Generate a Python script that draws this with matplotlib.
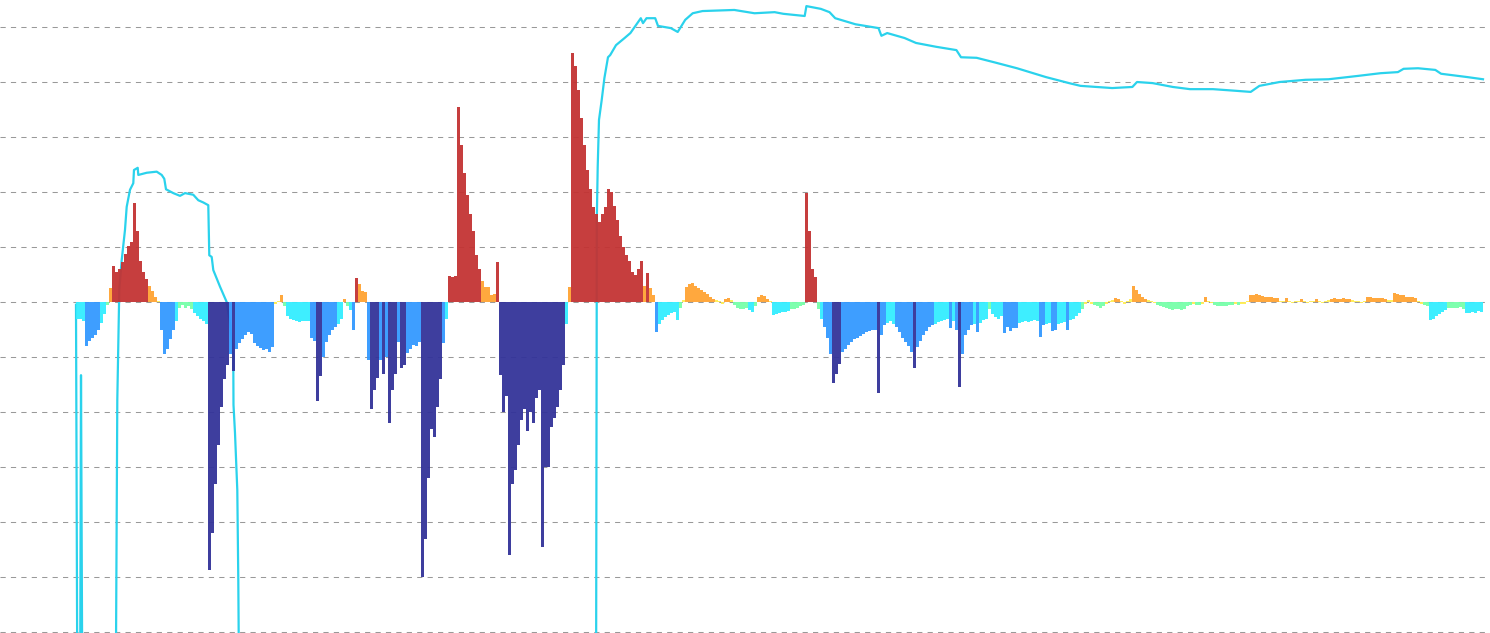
import numpy as np
import matplotlib
matplotlib.use('Agg')
import matplotlib.pyplot as plt

# Bar values (one per time step), in gridline units
bar_values = [
    -0.30, -0.30, -0.35, -0.80, -0.70, -0.65, -0.60, -0.50, -0.38, -0.22,
    -0.05, 0.25, 0.65, 0.55, 0.60, 0.72, 0.88, 1.02, 1.10, 1.80,
    1.30, 0.75, 0.55, 0.42, 0.30, 0.20, 0.10, 0.02, -0.50, -0.95,
    -0.85, -0.68, -0.50, -0.35, -0.10, -0.05, -0.10, -0.08, -0.12, -0.20,
    -0.25, -0.30, -0.35, -0.40, -4.87, -4.20, -3.30, -2.60, -1.90, -1.40,
    -1.15, -0.95, -1.25, -0.85, -0.75, -0.68, -0.60, -0.55, -0.58, -0.75,
    -0.80, -0.83, -0.88, -0.85, -0.90, -0.82, -0.03, 0.02, 0.12, -0.08,
    -0.25, -0.30, -0.32, -0.35, -0.36, -0.35, -0.35, -0.34, -0.65, -0.70,
    -1.80, -1.35, -1.00, -0.72, -0.60, -0.50, -0.45, -0.40, -0.30, 0.06,
    -0.08, -0.15, -0.50, 0.44, 0.33, 0.20, 0.18, -1.05, -1.95, -1.60,
    -1.38, -1.05, -1.30, -1.00, -2.20, -1.60, -1.30, -0.72, -1.20, -1.15,
    -0.92, -0.85, -0.78, -0.80, -0.72, -5.00, -4.30, -3.20, -2.30, -2.45,
    -1.90, -1.40, -0.75, -0.30, 0.48, 0.45, 0.47, 3.55, 2.85, 2.35,
    1.95, 1.60, 1.30, 0.85, 0.60, 0.38, 0.27, 0.27, 0.12, 0.15,
    0.72, -1.33, -2.00, -1.70, -4.60, -3.30, -3.05, -2.60, -2.15, -1.95,
    -2.35, -2.00, -2.20, -1.75, -1.60, -4.45, -3.00, -3.00, -2.27, -2.10,
    -1.90, -1.60, -1.15, -0.40, 0.27, 4.53, 4.30, 3.85, 3.35, 2.85,
    2.40, 2.05, 1.72, 1.60, 1.45, 1.60, 1.72, 2.05, 2.00, 1.75,
    1.50, 1.20, 1.00, 0.85, 0.75, 0.55, 0.50, 0.60, 0.75, 0.30,
    0.52, 0.25, 0.12, -0.55, -0.40, -0.33, -0.27, -0.23, -0.20, -0.18,
    -0.32, -0.10, 0.04, 0.27, 0.33, 0.34, 0.30, 0.25, 0.22, 0.18,
    0.14, 0.10, 0.06, 0.03, 0.02, -0.03, 0.06, 0.07, 0.03, -0.05,
    -0.10, -0.12, -0.13, -0.10, -0.15, -0.18, -0.08, 0.10, 0.13, 0.11,
    0.06, 0.02, -0.24, -0.22, -0.20, -0.18, -0.19, -0.16, -0.13, -0.12,
    -0.10, -0.08, -0.06, 1.98, 1.30, 0.60, 0.45, -0.12, -0.30, -0.45,
    -0.66, -0.95, -1.47, -1.30, -1.12, -0.90, -0.85, -0.78, -0.72, -0.68,
    -0.65, -0.62, -0.58, -0.55, -0.52, -0.50, -0.50, -1.65, -0.60, -0.42,
    -0.38, -0.35, -0.40, -0.45, -0.55, -0.65, -0.72, -0.80, -0.90, -1.20,
    -0.82, -0.70, -0.60, -0.52, -0.45, -0.42, -0.40, -0.37, -0.35, -0.33,
    -0.30, -0.48, -0.35, -0.50, -1.55, -0.95, -0.60, -0.50, -0.42, -0.40,
    -0.55, -0.38, -0.33, -0.30, -0.12, -0.22, -0.28, -0.30, -0.25, -0.57,
    -0.45, -0.52, -0.48, -0.47, -0.38, -0.37, -0.35, -0.36, -0.34, -0.33,
    -0.35, -0.63, -0.42, -0.40, -0.38, -0.52, -0.50, -0.40, -0.38, -0.36,
    -0.50, -0.33, -0.30, -0.25, -0.20, -0.12, -0.04, 0.03, -0.03, -0.05,
    -0.08, -0.10, -0.07, -0.03, 0.02, 0.04, 0.07, 0.06, 0.02, -0.03,
    0.02, 0.05, 0.29, 0.22, 0.15, 0.10, 0.06, 0.03, 0.02, -0.02,
    -0.06, -0.07, -0.09, -0.10, -0.13, -0.14, -0.13, -0.12, -0.14, -0.13,
    -0.08, -0.05, -0.04, -0.05, -0.06, -0.04, 0.09, 0.02, -0.02, -0.06,
    -0.08, -0.07, -0.08, -0.07, -0.06, -0.05, -0.04, -0.05, -0.04, -0.03,
    0.02, 0.12, 0.13, 0.14, 0.12, 0.11, 0.10, 0.10, 0.09, 0.08,
    0.08, 0.02, 0.01, 0.07, 0.02, -0.01, 0.01, 0.02, 0.06, 0.02,
    -0.01, 0.01, 0.02, 0.06, 0.02, -0.01, 0.01, 0.03, 0.06, 0.07,
    0.06, 0.06, 0.07, 0.06, 0.06, 0.04, 0.02, 0.01, -0.01, 0.02,
    0.09, 0.09, 0.08, 0.08, 0.08, 0.07, 0.06, 0.04, 0.03, 0.16,
    0.15, 0.13, 0.12, 0.10, 0.09, 0.09, 0.08, 0.02, -0.04, -0.06,
    -0.08, -0.33, -0.30, -0.26, -0.22, -0.18, -0.15, -0.10, -0.10, -0.11,
    -0.10, -0.09, -0.12, -0.20, -0.20, -0.18, -0.20, -0.17, -0.18,
]

# Cumulative line: vertices (position on the bar axis, value)
line_pos = [
    -0.5, 0.0, 0.83, 1.17, 1.67, 12.67, 13.27, 13.93, 14.73, 15.83,
    16.4, 17.5, 18.6, 18.83, 20.07, 20.27, 23.07, 26.4, 28.07, 28.93,
    29.5, 31.93, 34.17, 35.83, 38.6, 40.27, 41.93, 43.6, 43.93, 44.73,
    45.27, 47.5, 49.73, 50.83, 51.93, 52.0, 52.5, 53.27, 53.6, 54.0,
    172.83, 173.07, 173.1, 173.4, 173.83, 174.73, 175.63, 176.83, 177.57, 179.5,
    182.37, 184.3, 186.23, 187.77, 188.5, 189.67, 192.57, 193.5, 197.77, 200.07,
    202.57, 205.07, 208.33, 218.93, 225.67, 232.37, 235.27, 242.4, 242.97, 247.77,
    250.67, 252.57, 259.3, 267.0, 267.97, 269.9, 275.67, 279.5, 286.23, 292.97,
    294.5, 299.7, 305.47, 313.17, 322.77, 330.5, 334.33, 344.9, 351.63, 353.17,
    358.37, 365.1, 370.83, 378.5, 386.17, 391.07, 393.97, 400.7, 409.33, 417.03,
    426.67, 434.33, 440.13, 442.03, 446.83, 452.6, 454.53, 463.2, 468.5,
]
line_values = [
    -0.05, -8.0, -8.0, -1.33, -8.0, -8.0, -1.78, 0.22, 0.76, 1.31,
    1.73, 2.04, 2.16, 2.40, 2.44, 2.31, 2.35, 2.37, 2.31, 2.24,
    2.05, 1.98, 1.93, 1.98, 1.95, 1.85, 1.81, 1.76, 0.85, 0.82,
    0.58, 0.28, 0.00, -0.38, -1.00, -1.87, -2.38, -3.42, -5.05, -8.0,
    -8.0, -0.02, 1.49, 2.45, 3.31, 3.67, 4.07, 4.45, 4.49, 4.67,
    4.80, 4.89, 5.04, 5.16, 5.07, 5.16, 5.16, 5.02, 4.98, 4.91,
    5.13, 5.25, 5.29, 5.31, 5.25, 5.27, 5.24, 5.20, 5.38, 5.33,
    5.27, 5.16, 5.05, 4.98, 4.84, 4.89, 4.80, 4.71, 4.64, 4.58,
    4.45, 4.44, 4.36, 4.25, 4.09, 3.98, 3.93, 3.89, 3.91, 4.00,
    3.98, 3.91, 3.87, 3.87, 3.84, 3.82, 3.93, 4.00, 4.04, 4.05,
    4.11, 4.16, 4.18, 4.24, 4.25, 4.22, 4.15, 4.09, 4.05,
]

# Colour pieces (upper bounds, colours), from strong outflow to strong inflow
piece_bounds = [-1.1, -0.42, -0.15, -0.05, 0.05, 0.4]
piece_colors = ['#333399', '#3399ff', '#33eeff', '#77ffaa', '#ffee55', '#ffa333', '#c33333']

values = np.array(bar_values)
x = np.arange(len(values))
colors = [piece_colors[np.searchsorted(piece_bounds, v, side='left')] for v in values]

fig = plt.figure(figsize=(14.9, 6.33), dpi=100)
ax = fig.add_axes([0, 0, 1, 1])

# dashed horizontal grid
for g in range(-6, 6):
    ax.axhline(g, color='#999999', linewidth=0.75, linestyle=(0, (5, 5)), zorder=0)

ax.plot(line_pos, line_values, color='#2ad2ec', linewidth=1.6, zorder=1)
ax.bar(x, values, width=1.0, color=colors, alpha=0.95, linewidth=0, zorder=2)

ax.set_xlim(-25.83, 470.83)
ax.set_ylim(-6.018, 5.491)
ax.axis('off')

plt.savefig('out.png', dpi=100)
